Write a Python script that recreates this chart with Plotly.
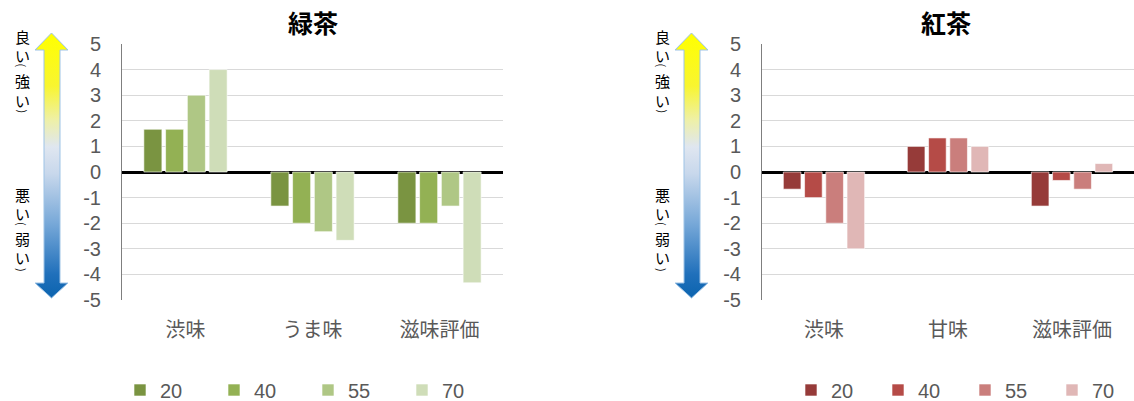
import plotly.graph_objects as go

W, H = 1134, 401

green_categories = ["渋味", "うま味", "滋味評価"]
red_categories = ["渋味", "甘味", "滋味評価"]
series_names = ["20", "40", "55", "70"]

green_20 = [1.67, -1.33, -2.0]
green_40 = [1.67, -2.0, -2.0]
green_55 = [3.0, -2.33, -1.33]
green_70 = [4.0, -2.67, -4.33]

red_20 = [-0.67, 1.0, -1.33]
red_40 = [-1.0, 1.33, -0.33]
red_55 = [-2.0, 1.33, -0.67]
red_70 = [-3.0, 1.0, 0.33]

green_colors = ["#7A9441", "#93B154", "#AFC785", "#CFDDB8"]
red_colors = ["#963B39", "#B54B47", "#CA7E7C", "#E0B7B6"]

ytick_vals = [5, 4, 3, 2, 1, 0, -1, -2, -3, -4, -5]
ytick_text = ["5", "4", "3", "2", "1", "0", "-1", "-2", "-3", "-4", "-5"]

FONT = "Liberation Sans, Arial, Noto Sans CJK JP, sans-serif"
JFONT = "Noto Sans CJK JP, sans-serif"
GREY = "#595959"


def px(x):
    return x / W


def py(y):
    return 1 - y / H


fig = go.Figure()

for name, vals, col in zip(series_names, [green_20, green_40, green_55, green_70], green_colors):
    fig.add_trace(go.Bar(x=green_categories, y=vals, name=name, marker_color=col,
                         marker_line=dict(color="rgba(255,255,255,0.6)", width=1),
                         xaxis="x", yaxis="y", legend="legend"))
for name, vals, col in zip(series_names, [red_20, red_40, red_55, red_70], red_colors):
    fig.add_trace(go.Bar(x=red_categories, y=vals, name=name, marker_color=col,
                         marker_line=dict(color="rgba(255,255,255,0.6)", width=1),
                         xaxis="x2", yaxis="y2", legend="legend2"))

# gradient arrows (decoration), drawn in small pixel-scaled subplots
arrow_scale = [[0, "#FFFF00"], [0.2, "#F8F530"], [0.33, "#EEF0A8"], [0.43, "#DFE6F0"],
               [0.53, "#C8D8EC"], [0.72, "#77A8D8"], [0.91, "#2070BB"], [1, "#0B63AE"]]
arrow_x = [51.5, 68, 60, 60, 68, 51.5, 35, 44, 44, 35, 51.5]
arrow_y = [33, 50, 50, 283, 283, 298, 283, 283, 50, 50, 33]
for xa, ya in [("x3", "y3"), ("x4", "y4")]:
    fig.add_trace(go.Scatter(x=arrow_x, y=arrow_y, mode="lines", fill="toself",
                             fillgradient=dict(type="vertical", colorscale=arrow_scale, start=33, stop=298),
                             line=dict(color="#9DC3E6", width=1), hoverinfo="skip",
                             showlegend=False, xaxis=xa, yaxis=ya))

ydom = [py(300), py(44)]
axis_common_y = dict(range=[-5, 5], tickvals=ytick_vals, ticktext=ytick_text,
                     showgrid=True, gridcolor="#D9D9D9", gridwidth=1,
                     zeroline=True, zerolinecolor="black", zerolinewidth=3,
                     showline=True, linecolor="#7F7F7F", linewidth=1,
                     ticks="", ticklabelstandoff=16, automargin=False,
                     tickfont=dict(family=FONT, size=20, color=GREY), domain=ydom)
axis_common_x = dict(showgrid=False, zeroline=False, showline=False, ticks="",
                     ticklabelstandoff=16, automargin=False,
                     tickfont=dict(family=JFONT, size=20, color=GREY))

fig.update_layout(
    width=W, height=H, margin=dict(l=0, r=0, t=0, b=0, autoexpand=False),
    paper_bgcolor="white", plot_bgcolor="rgba(0,0,0,0)",
    barmode="group", bargap=0.315, bargroupgap=0.17,
    xaxis=dict(domain=[px(122), px(503)], anchor="y", **axis_common_x),
    yaxis=dict(anchor="x", **axis_common_y),
    xaxis2=dict(domain=[px(762), px(1134)], anchor="y2", **axis_common_x),
    yaxis2=dict(anchor="x2", **axis_common_y),
    xaxis3=dict(domain=[px(30), px(75)], range=[30, 75], visible=False, anchor="y3", fixedrange=True),
    yaxis3=dict(domain=[0, 1], range=[H, 0], visible=False, anchor="x3", fixedrange=True),
    xaxis4=dict(domain=[px(670), px(715)], range=[30, 75], visible=False, anchor="y4", fixedrange=True),
    yaxis4=dict(domain=[0, 1], range=[H, 0], visible=False, anchor="x4", fixedrange=True),
    legend=dict(orientation="h", x=px(120), xanchor="left", y=py(390), yanchor="middle",
                entrywidth=49, entrywidthmode="pixels", itemwidth=30,
                font=dict(family=FONT, size=20, color=GREY), bgcolor="rgba(0,0,0,0)"),
    legend2=dict(orientation="h", x=px(791), xanchor="left", y=py(390), yanchor="middle",
                 entrywidth=42, entrywidthmode="pixels", itemwidth=30,
                 font=dict(family=FONT, size=20, color=GREY), bgcolor="rgba(0,0,0,0)"),
    showlegend=True,
)

annos = [
    dict(x=px(313), y=py(22), text="緑茶", font=dict(family=JFONT, size=25, color="black", weight="bold")),
    dict(x=px(946), y=py(22), text="紅茶", font=dict(family=JFONT, size=25, color="black", weight="bold")),
]
top_chars = [("良", 36.5), ("い", 55), ("(", 65.5), ("強", 80.5), ("い", 100), (")", 111.5)]
bot_chars = [("悪", 194.5), ("い", 213), ("(", 224), ("弱", 238.5), ("い", 257), (")", 270)]
for off in [0, 640]:
    for ch, yy in top_chars + bot_chars:
        if ch in "()":
            annos.append(dict(x=px(22 + off), y=py(yy), text=ch, textangle=90, borderpad=0,
                              font=dict(family=JFONT, size=11, color="black")))
        else:
            annos.append(dict(x=px(22 + off), y=py(yy), text=ch, borderpad=0,
                              font=dict(family=JFONT, size=15, color="black")))
for a in annos:
    a.update(xref="paper", yref="paper", showarrow=False, xanchor="center", yanchor="middle")
fig.update_layout(annotations=annos)

fig.write_html("out.html")
